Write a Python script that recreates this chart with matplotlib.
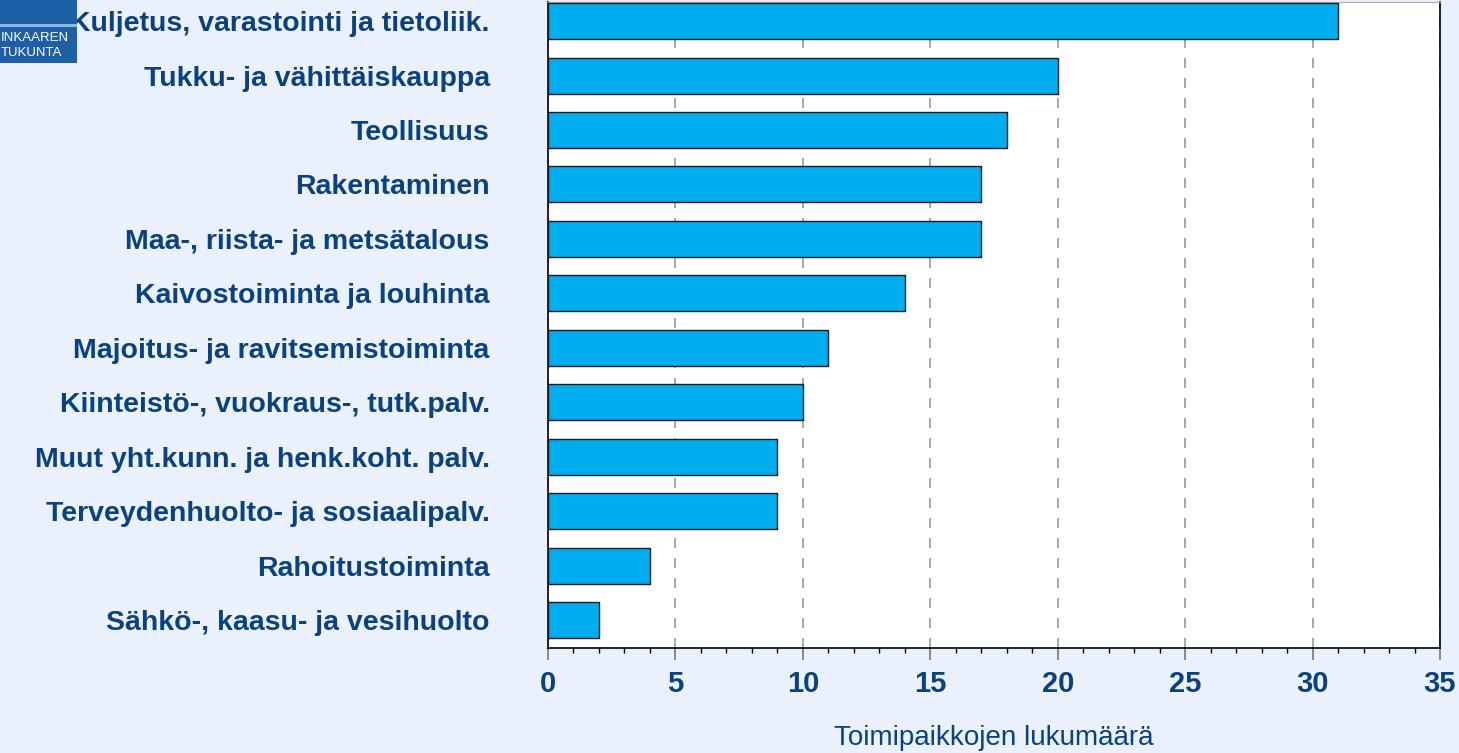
import matplotlib.pyplot as plt
from matplotlib.patches import Rectangle
from matplotlib.ticker import MultipleLocator

# Toimipaikat toimialoittain (alhaalta ylös)
categories = [
    'Sähkö-, kaasu- ja vesihuolto',
    'Rahoitustoiminta',
    'Terveydenhuolto- ja sosiaalipalv.',
    'Muut yht.kunn. ja henk.koht. palv.',
    'Kiinteistö-, vuokraus-, tutk.palv.',
    'Majoitus- ja ravitsemistoiminta',
    'Kaivostoiminta ja louhinta',
    'Maa-, riista- ja metsätalous',
    'Rakentaminen',
    'Teollisuus',
    'Tukku- ja vähittäiskauppa',
    'Kuljetus, varastointi ja tietoliik.',
]
counts = [2, 4, 9, 9, 10, 11, 14, 17, 17, 18, 20, 31]
x_ticks = [0, 5, 10, 15, 20, 25, 30, 35]

bg = '#EAF0FC'
navy = '#0A4280'
bar_color = '#00AEEF'

plt.rcParams['font.family'] = ['Liberation Sans', 'DejaVu Sans']

W, H = 1459, 753
fig = plt.figure(figsize=(W / 100, H / 100), dpi=100, facecolor=bg)
ax = fig.add_axes([548 / W, 1 - 648 / H, (1440 - 548) / W, (648 - 2) / H])
ax.set_facecolor('white')

ypos = list(range(len(categories)))
ax.barh(ypos, counts, height=0.66, color=bar_color, edgecolor='#1a1a1a',
        linewidth=1.0, zorder=3)

ax.set_xlim(0, 35)
ax.set_ylim(-0.51, 11.35)
ax.set_xticks(x_ticks)
ax.xaxis.set_minor_locator(MultipleLocator(1))
ax.set_xticklabels([str(t) for t in x_ticks], fontsize=21, fontweight='bold', color=navy)
ax.set_yticks(ypos)
ax.set_yticklabels(categories, fontsize=20.5, fontweight='bold', color=navy, ha='right')
ax.tick_params(axis='y', length=0, pad=42)
ax.tick_params(axis='x', which='major', length=8.5, width=1.2, color='#777777',
               direction='out', pad=7)
ax.tick_params(axis='x', which='minor', length=3.5, width=1, color='black', direction='out')

ax.grid(axis='x', which='major', linestyle=(0, (6, 6)), color='#999999', linewidth=1.2, zorder=1)

for s in ['left', 'bottom', 'right']:
    ax.spines[s].set_color('black')
    ax.spines[s].set_linewidth(1.2)
ax.spines['top'].set_color('#aaaaaa')

ax.set_xlabel('Toimipaikkojen lukumäärä', fontsize=20, color=navy, labelpad=20)

# logo in the top left corner
fig.patches.append(Rectangle((0, 1 - 63 / H), 77 / W, 63 / H, transform=fig.transFigure,
                             facecolor='#1D5FA6', edgecolor='none', zorder=5))
fig.patches.append(Rectangle((0, 1 - 27 / H), 77 / W, 3 / H, transform=fig.transFigure,
                             facecolor='#8FB8E0', edgecolor='none', zorder=6))
fig.text(1 / W, 1 - 38 / H, 'INKAAREN', fontsize=9.5, color='white', va='center', zorder=7)
fig.text(1 / W, 1 - 53 / H, 'TUKUNTA', fontsize=9.5, color='white', va='center', zorder=7)

fig.savefig('out.png', dpi=100, facecolor=bg)
